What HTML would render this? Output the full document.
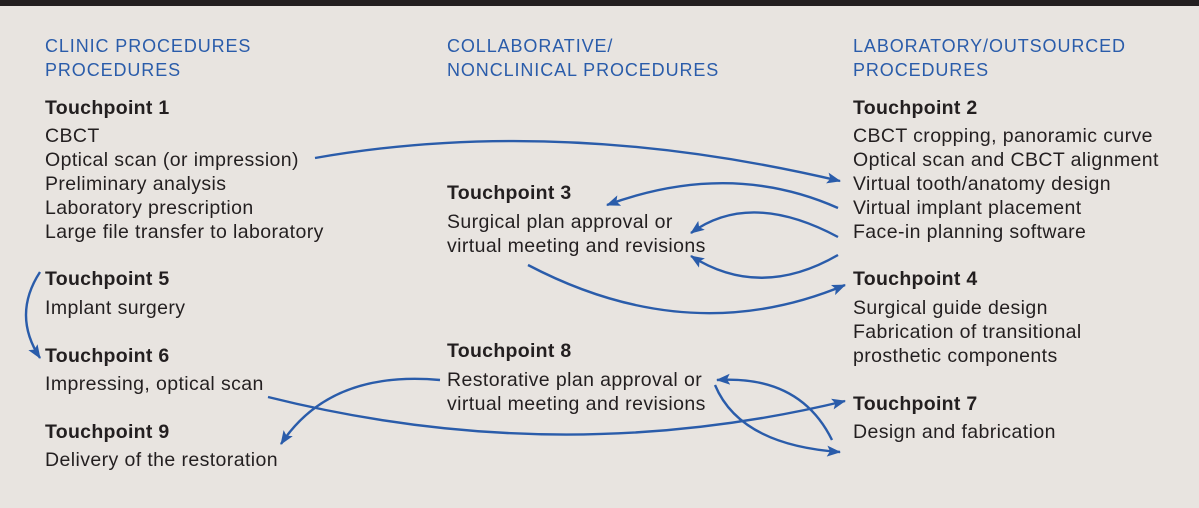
<!DOCTYPE html>
<html><head><style>
body{margin:0;width:1199px;height:508px;background:#e8e4e0;position:relative;overflow:hidden;font-family:"Liberation Sans",sans-serif;}
.bar{position:absolute;left:0;top:0;width:1199px;height:6px;background:#231f20;}
.t{position:absolute;white-space:nowrap;font-size:19.5px;letter-spacing:0.4px;color:#231f20;line-height:24px;}
.h{color:#2a5caa;font-size:18px;letter-spacing:0.9px;}
.b{font-weight:bold;letter-spacing:0.3px;}
svg{position:absolute;left:0;top:0;}
</style></head><body>
<div class="bar"></div>
<div class="t h" style="left:45px;top:34px">CLINIC PROCEDURES<br>PROCEDURES</div>
<div class="t h" style="left:447px;top:34px">COLLABORATIVE/<br>NONCLINICAL PROCEDURES</div>
<div class="t h" style="left:853px;top:34px">LABORATORY/OUTSOURCED<br>PROCEDURES</div>

<div class="t b" style="left:45px;top:96px">Touchpoint 1</div>
<div class="t" style="left:45px;top:124px">CBCT<br>Optical scan (or impression)<br>Preliminary analysis<br>Laboratory prescription<br>Large file transfer to laboratory</div>
<div class="t b" style="left:45px;top:267px">Touchpoint 5</div>
<div class="t" style="left:45px;top:296px">Implant surgery</div>
<div class="t b" style="left:45px;top:344px">Touchpoint 6</div>
<div class="t" style="left:45px;top:372px">Impressing, optical scan</div>
<div class="t b" style="left:45px;top:420px">Touchpoint 9</div>
<div class="t" style="left:45px;top:448px">Delivery of the restoration</div>

<div class="t b" style="left:447px;top:181px">Touchpoint 3</div>
<div class="t" style="left:447px;top:210px">Surgical plan approval or<br>virtual meeting and revisions</div>
<div class="t b" style="left:447px;top:339px">Touchpoint 8</div>
<div class="t" style="left:447px;top:368px">Restorative plan approval or<br>virtual meeting and revisions</div>

<div class="t b" style="left:853px;top:96px">Touchpoint 2</div>
<div class="t" style="left:853px;top:124px">CBCT cropping, panoramic curve<br>Optical scan and CBCT alignment<br>Virtual tooth/anatomy design<br>Virtual implant placement<br>Face-in planning software</div>
<div class="t b" style="left:853px;top:267px">Touchpoint 4</div>
<div class="t" style="left:853px;top:296px">Surgical guide design<br>Fabrication of transitional<br>prosthetic components</div>
<div class="t b" style="left:853px;top:392px">Touchpoint 7</div>
<div class="t" style="left:853px;top:420px">Design and fabrication</div>

<svg width="1199" height="508">
<defs><marker id="a" markerWidth="14" markerHeight="11" refX="13" refY="5.5" orient="auto" markerUnits="userSpaceOnUse" viewBox="0 0 14 11"><path d="M0,0L14,5.5L0,11L3,5.5z" fill="#2a5caa"/></marker></defs>
<g fill="none" stroke="#2a5caa" stroke-width="2.4" marker-end="url(#a)">
<path d="M315,158 Q560,115 840,181"/>
<path d="M838,208 Q730,160 607,205"/>
<path d="M838,237 Q750,190 691,233"/>
<path d="M838,255 Q760,300 691,256"/>
<path d="M528,265 Q690,350 845,285"/>
<path d="M40,272 Q12,315 40,358"/>
<path d="M268,397 Q560,470 845,401"/>
<path d="M440,380 Q330,370 281,444"/>
<path d="M715,385 Q740,445 840,452"/>
<path d="M832,440 Q800,375 717,380"/>
</g>
</svg>
</body></html>
